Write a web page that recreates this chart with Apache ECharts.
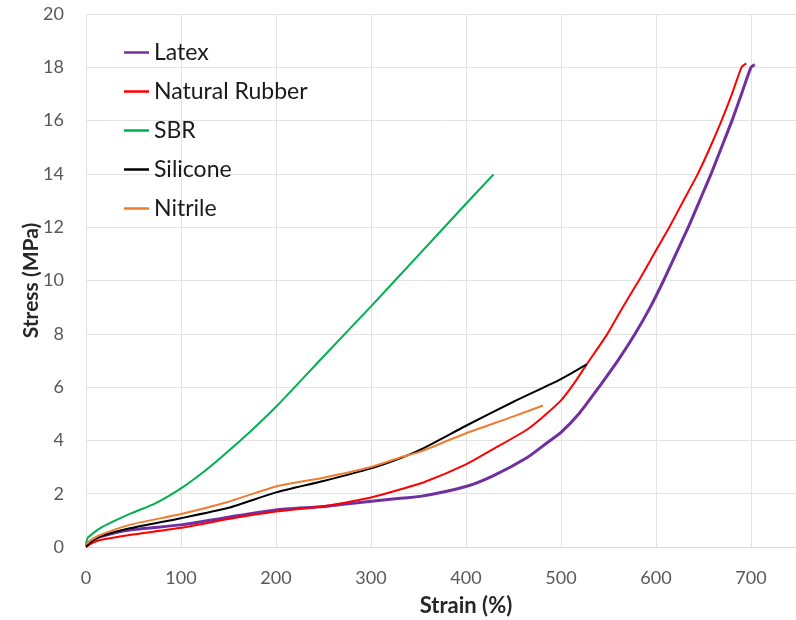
<!DOCTYPE html>
<html>
<head>
<meta charset="utf-8">
<script src="https://cdn.jsdelivr.net/npm/echarts@6/dist/echarts.min.js"></script>
<style>
html,body{margin:0;padding:0;background:#fff;}
#chart{width:796px;height:620px;}
</style>
</head>
<body>
<div id="chart"></div>
<script>
var seriesNames = ['Latex', 'Natural Rubber', 'SBR', 'Silicone', 'Nitrile'];
var xTicks = [0, 100, 200, 300, 400, 500, 600, 700, 800];
var yTicks = [0, 2, 4, 6, 8, 10, 12, 14, 16, 18, 20];

var latexStrain = [0, 5, 15, 46, 100, 150, 200, 250, 288, 323, 352, 400, 429, 464, 485, 500, 520, 540, 560, 578, 594, 608, 621, 634, 646, 658, 669, 680, 690, 700, 704];
var latexStress = [0.05, 0.22, 0.39, 0.64, 0.83, 1.12, 1.39, 1.52, 1.67, 1.8, 1.9, 2.27, 2.68, 3.35, 3.9, 4.3, 5.05, 6.0, 7.0, 8.0, 9.0, 10.0, 11.0, 12.0, 13.0, 14.0, 15.0, 16.0, 17.0, 18.0, 18.1];

var rubberStrain = [0, 5, 15, 46, 100, 150, 200, 250, 300, 323, 357, 400, 430, 464, 480, 500, 513, 527, 548, 565, 582, 598, 614, 629, 644, 657, 669, 680, 690, 695];
var rubberStress = [0, 0.12, 0.26, 0.45, 0.72, 1.05, 1.33, 1.53, 1.86, 2.08, 2.45, 3.1, 3.7, 4.4, 4.85, 5.5, 6.1, 6.85, 7.95, 9.0, 10.0, 11.0, 12.0, 13.0, 14.0, 15.0, 16.0, 17.0, 18.0, 18.15];

var sbrStrain = [0, 2, 15, 46, 73, 100, 125, 150, 175, 200, 250, 300, 350, 400, 429];
var sbrStress = [0.1, 0.35, 0.71, 1.24, 1.64, 2.2, 2.85, 3.6, 4.4, 5.26, 7.15, 9.03, 10.95, 12.88, 13.98];

var siliconeStrain = [0, 5, 15, 46, 100, 150, 200, 250, 300, 330, 352, 400, 450, 500, 527];
var siliconeStress = [0, 0.18, 0.39, 0.7, 1.08, 1.47, 2.05, 2.48, 2.95, 3.32, 3.65, 4.55, 5.45, 6.3, 6.85];

var nitrileStrain = [0, 5, 15, 46, 100, 150, 200, 250, 300, 330, 352, 400, 450, 481];
var nitrileStress = [0.1, 0.25, 0.45, 0.83, 1.24, 1.7, 2.27, 2.6, 3.0, 3.35, 3.58, 4.27, 4.9, 5.31];

var colors = ['#7030A0', '#FF0000', '#00B050', '#000000', '#ED7D31'];

function pairs(xs, ys) {
  var out = [];
  for (var i = 0; i < xs.length; i++) out.push([xs[i], ys[i]]);
  return out;
}

var allData = [
  pairs(latexStrain, latexStress),
  pairs(rubberStrain, rubberStress),
  pairs(sbrStrain, sbrStress),
  pairs(siliconeStrain, siliconeStress),
  pairs(nitrileStrain, nitrileStress)
];

var chart = echarts.init(document.getElementById('chart'), null, {renderer: 'canvas'});
var font = 'Lato, "Open Sans", sans-serif';

var series = seriesNames.map(function (n, i) {
  return {
    name: n,
    type: 'line',
    data: allData[i],
    showSymbol: false,
    smooth: 0.2,
    lineStyle: {color: colors[i], width: i === 0 ? 3 : 2},
    itemStyle: {color: colors[i]},
    z: i === 0 ? 1 : 2
  };
});

chart.setOption({
  animation: false,
  backgroundColor: '#ffffff',
  color: colors,
  grid: {left: 86, top: 14, width: 760, height: 533, containLabel: false, outerBoundsMode: 'none'},
  legend: {
    orient: 'vertical',
    left: 119,
    top: 36,
    itemWidth: 25,
    itemHeight: 2.5,
    itemGap: 16,
    icon: 'rect',
    data: seriesNames,
    textStyle: {fontFamily: font, fontSize: 23, color: '#1a1a1a', lineHeight: 23}
  },
  xAxis: {
    type: 'value',
    min: xTicks[0],
    max: xTicks[xTicks.length - 1],
    interval: 100,
    name: 'Strain (%)',
    nameLocation: 'middle',
    nameGap: 48,
    nameMoveOverlap: false,
    nameTextStyle: {fontFamily: font, fontSize: 22, fontWeight: 'bold', color: '#262626'},
    axisLine: {show: true, lineStyle: {color: '#d9d9d9', width: 1}},
    axisTick: {show: false},
    axisLabel: {fontFamily: font, fontSize: 18, color: '#595959', margin: 22},
    splitLine: {show: true, lineStyle: {color: '#e3e3e3', width: 1}}
  },
  yAxis: {
    type: 'value',
    min: yTicks[0],
    max: yTicks[yTicks.length - 1],
    interval: 2,
    name: 'Stress (MPa)',
    nameLocation: 'middle',
    nameGap: 44,
    nameMoveOverlap: false,
    nameTextStyle: {fontFamily: font, fontSize: 21, fontWeight: 'bold', color: '#262626'},
    axisLine: {show: false},
    axisTick: {show: false},
    axisLabel: {fontFamily: font, fontSize: 18, color: '#595959', margin: 22},
    splitLine: {show: true, lineStyle: {color: '#e3e3e3', width: 1}}
  },
  series: series
});
</script>
</body>
</html>
